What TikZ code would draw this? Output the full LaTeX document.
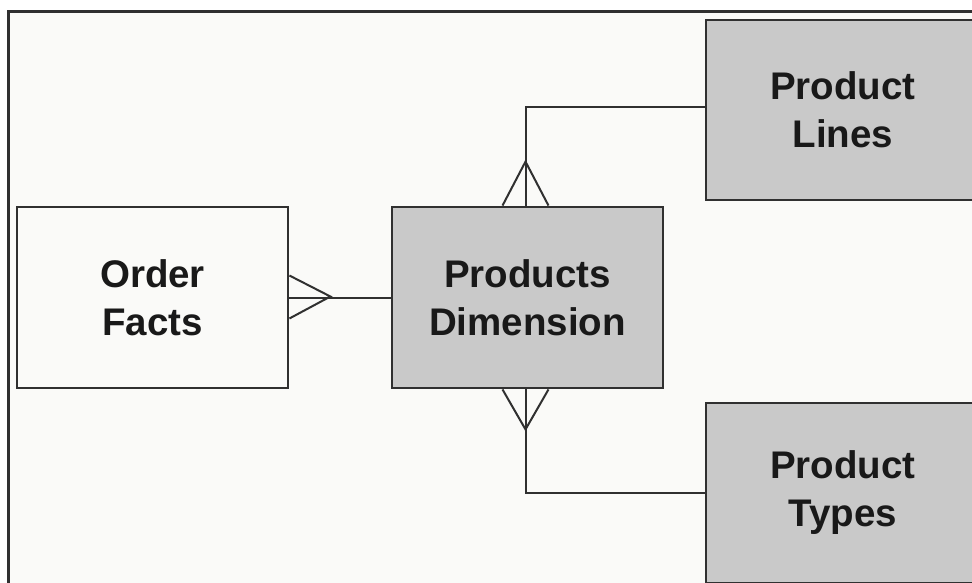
\documentclass[tikz,border=0pt]{standalone}
\usepackage{fontspec}
\setmainfont{Liberation Sans}
\usetikzlibrary{calc}
\definecolor{bgpaper}{HTML}{FAFAF8}
\definecolor{boxgray}{HTML}{C9C9C9}
\definecolor{edgecol}{HTML}{303030}
\tikzset{
  entity/.style={draw=edgecol, line width=2.8pt, minimum width=271pt, minimum height=181pt,
    inner sep=0pt, align=center, text=black!90,
    font=\fontsize{38.5}{48}\selectfont\bfseries},
  dimbox/.style={entity, fill=boxgray},
  factbox/.style={entity, fill=bgpaper},
  link/.style={draw=edgecol, line width=2pt},
}
\begin{document}
\begin{tikzpicture}[x=1pt,y=-1pt]
\useasboundingbox (0,0) rectangle (972,582);
\clip (0,0) rectangle (972,582);
\fill[white] (0,0) rectangle (972,582);
\draw[draw=edgecol, line width=3pt, fill=bgpaper] (8,11) rectangle (1000,620);

\node[factbox] (of) at (152.5,297.5) {Order\\Facts};
\node[dimbox] (pd) at (527.5,297.5) {Products\\Dimension};
\node[dimbox, minimum width=274pt, minimum height=180pt] (pl) at (843,110) {Product\\Lines};
\node[dimbox, minimum width=274pt, minimum height=180pt] (pt) at (843,493) {Product\\Types};

% Order Facts -- Products Dimension
\coordinate (oftip) at ($(of.east)+(41,-1)$);
\draw[link] (of.east |- pd.west) -- (pd.west);
\draw[link] ($(of.east)+(0,-22)$) -- (oftip) -- ($(of.east)+(0,21)$);

% Products Dimension -- Product Lines
\coordinate (uptip) at ($(pd.north)+(-2,-44)$);
\coordinate (upcorner) at ($(pd.north)+(-2,-99)$);
\draw[link] ($(pd.north)+(-2,0)$) -- (upcorner) -- (upcorner -| pl.west);
\draw[link] ($(pd.north)+(-25,0)$) -- (uptip) -- ($(pd.north)+(21,0)$);

% Products Dimension -- Product Types
\coordinate (dntip) at ($(pd.south)+(-2,40)$);
\coordinate (dncorner) at ($(pd.south)+(-2,104)$);
\draw[link] ($(pd.south)+(-2,0)$) -- (dncorner) -- (dncorner -| pt.west);
\draw[link] ($(pd.south)+(-25,0)$) -- (dntip) -- ($(pd.south)+(21,0)$);
\end{tikzpicture}
\end{document}
